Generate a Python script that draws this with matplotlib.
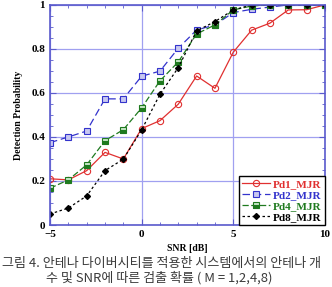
import numpy as np
import matplotlib.pyplot as plt
from matplotlib.ticker import MultipleLocator

# SNR 축과 검출 확률 값
snr = [-5, -4, -3, -2, -1, 0, 1, 2, 3, 4, 5, 6, 7, 8, 9, 10]
pd1 = [0.21, 0.205, 0.247, 0.33, 0.30, 0.438, 0.474, 0.549, 0.677, 0.621,
       0.785, 0.885, 0.917, 0.977, 0.978, 1.0]
pd2 = [0.374, 0.40, 0.427, 0.573, 0.573, 0.676, 0.699, 0.803, 0.886, 0.909,
       0.965, 0.98, 0.99, 1.0, 1.0, 1.0]
pd4 = [0.167, 0.205, 0.273, 0.383, 0.433, 0.532, 0.655, 0.741, 0.868, 0.909,
       0.977, 0.995, 1.0, 1.0, 1.0, 1.0]
pd8 = [0.05, 0.077, 0.132, 0.247, 0.299, 0.432, 0.594, 0.715, 0.882, 0.924,
       0.977, 1.0, 1.0, 1.0, 1.0, 1.0]
names = ["Pd1_MJR", "Pd2_MJR", "Pd4_MJR", "Pd8_MJR"]
caption1 = "그림 4. 안테나 다이버시티를 적용한 시스템에서의 안테나 개"
caption2 = "수 및 SNR에 따른 검출 확률 ( M = 1,2,4,8)"

serif = "Liberation Serif"
frame = "#5a5acc"
cjk = ["Noto Sans CJK KR", "DejaVu Sans"]

fig = plt.figure(figsize=(3.32, 2.87), dpi=100)
ax = fig.add_axes([0.1506, 0.216, 0.828, 0.767])

ax.plot(snr, pd1, color="#e03030", lw=0.9, marker="o", ms=4.5, mfc="none",
        mew=0.8, label=names[0])
ax.plot(snr, pd2, color="#3333cc", lw=0.9, ls=(0, (6, 3)), marker="s", ms=4.5,
        mfc="#c8c8f0", mew=0.8, label=names[1])
ax.plot(snr, pd4, color="#1f7a1f", lw=0.9, ls=(0, (5, 2)), marker="s", ms=4.5,
        fillstyle="bottom", mfcalt="#c8e8c8", mew=0.8, label=names[2])
ax.plot(snr, pd8, color="black", lw=0.9, ls=(0, (2, 2)), marker="D", ms=3,
        label=names[3])

ax.set_xlim(-5, 10)
ax.set_ylim(0, 1)
ax.xaxis.set_major_locator(MultipleLocator(5))
ax.xaxis.set_minor_locator(MultipleLocator(1))
ax.yaxis.set_minor_locator(MultipleLocator(0.05))
ax.set_yticks([0, 0.2, 0.4, 0.6, 0.8, 1.0])
ax.set_yticklabels(["0", "0.2", "0.4", "0.6", "0.8", "1"])
ax.grid(True, which="major", color="#a0a0f0", lw=0.9)
ax.tick_params(which="both", direction="in", top=True, right=True, color=frame)
ax.tick_params(which="major", length=4)
ax.tick_params(which="minor", length=2)
for lab in ax.get_xticklabels() + ax.get_yticklabels():
    lab.set_fontfamily(serif)
    lab.set_fontweight("bold")
    lab.set_fontsize(8)
for s in ax.spines.values():
    s.set_color(frame)
    s.set_linewidth(1.2)

ax.set_xlabel("SNR [dB]", family=serif, weight="bold", fontsize=7, labelpad=4)
ax.set_ylabel("Detection Probability", family=serif, weight="bold", fontsize=7,
              labelpad=6)

leg = ax.legend(loc="lower right", prop={"family": serif, "weight": "bold", "size": 8},
                frameon=True, fancybox=False, edgecolor="black", framealpha=1,
                borderpad=0.3, labelspacing=0.1, handlelength=2.5,
                handletextpad=0.3, borderaxespad=0)
leg.get_frame().set_linewidth(1.0)
for t, c in zip(leg.get_texts(), ["#e03030", "#3333cc", "#1f7a1f", "black"]):
    t.set_color(c)

# 캡션 (원본은 아래쪽이 잘려 있음)
fig.text(0.005, 0.068, caption1, family=cjk, fontsize=9.4, color="#3a3a3a",
         va="baseline")
fig.text(0.14, 0.018, caption2, family=cjk, fontsize=9.4, color="#3a3a3a",
         va="baseline")

fig.savefig("out.png", dpi=100)
